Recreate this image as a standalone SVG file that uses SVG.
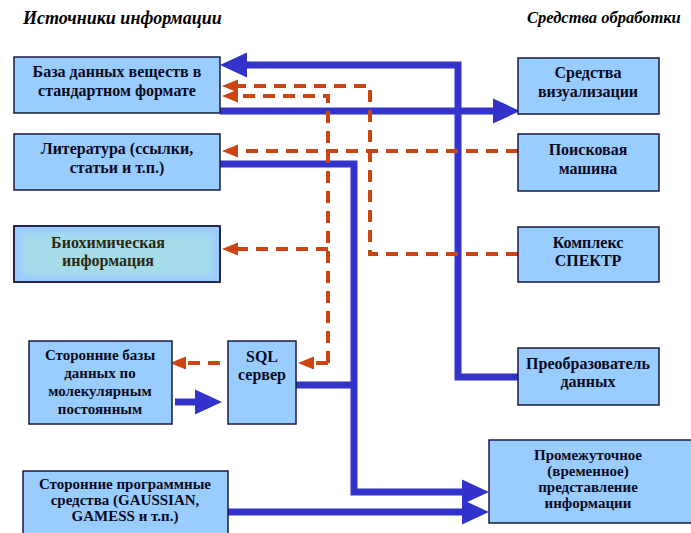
<svg xmlns="http://www.w3.org/2000/svg" width="691" height="533" viewBox="0 0 691 533">
<style>
.box{fill:#99ccff;stroke:#1a1a40;stroke-width:1.5}
.t{font-weight:bold;font-size:16px;fill:#0a0a20;text-anchor:middle}
.s{font-size:15px}
.h{font-weight:bold;font-style:italic;font-size:18px;fill:#000}
.b{fill:none;stroke:#3333cc;stroke-width:7}
.d{fill:none;stroke:#cc4411;stroke-width:4;stroke-dasharray:12 8}
</style>
<defs>
<marker id="ba" markerUnits="userSpaceOnUse" markerWidth="27" markerHeight="25" refX="0" refY="12.5" orient="auto" overflow="visible">
<path d="M0,0 L27,12.5 L0,25 Z" fill="#3333cc"/>
</marker>
<marker id="oa" markerUnits="userSpaceOnUse" markerWidth="16" markerHeight="13" refX="0" refY="6.5" orient="auto" overflow="visible">
<path d="M0,0 L16,6.5 L0,13 Z" fill="#cc4411"/>
</marker>
<filter id="soft" x="-10%" y="-30%" width="120%" height="160%">
<feGaussianBlur stdDeviation="3"/>
</filter>
</defs>
<g font-family="Liberation Serif">
<text class="h" x="23" y="24">Источники информации</text>
<text class="h" x="527" y="23" style="font-size:16.5px">Средства обработки</text>

<g id="connectors">
<path class="b" d="M518,377 H458 V65 H247" marker-end="url(#ba)"/>
<path class="b" d="M220,111 H493" marker-end="url(#ba)"/>
<path class="b" d="M220,164 H354 V492 H462" marker-end="url(#ba)"/>
<path class="b" d="M296,385 H354"/>
<path class="b" d="M228,512 H462" marker-end="url(#ba)"/>
<path class="b" d="M175,402 H195" marker-end="url(#ba)"/>
<path class="d" d="M518,151 H238" marker-end="url(#oa)"/>
<path class="d" d="M518,254 H370 V86 H238" marker-end="url(#oa)"/>
<path class="d" d="M328,363 V96 H238" marker-end="url(#oa)"/>
<path class="d" d="M328,249 H238" marker-end="url(#oa)"/>
<path class="d" d="M328,363 H314" marker-end="url(#oa)"/>
<path class="d" d="M220,363 H186" marker-end="url(#oa)"/>
</g>

<g id="db-standard">
<rect class="box" x="14" y="57" width="206" height="56"/>
<text class="t" x="117" y="77">База данных веществ в</text>
<text class="t" x="117" y="96">стандартном формате</text>
</g>
<g id="literature">
<rect class="box" x="14" y="134" width="206" height="56"/>
<text class="t" x="117" y="154">Литература (ссылки,</text>
<text class="t" x="117" y="173">статьи и т.п.)</text>
</g>
<g id="biochem">
<rect class="box" x="14" y="226" width="206" height="56"/>
<rect x="22" y="233" width="190" height="42" fill="#a6dcea" filter="url(#soft)"/>
<rect x="14" y="226" width="206" height="56" fill="none" stroke="#1a1a40" stroke-width="1.5"/>
<text class="t" x="108" y="248" style="fill:#2a2a10">Биохимическая</text>
<text class="t" x="108" y="266" style="fill:#2a2a10">информация</text>
</g>
<g id="thirdparty-db">
<rect class="box" x="29" y="341" width="143" height="83"/>
<text class="t s" x="100" y="360">Сторонние базы</text>
<text class="t s" x="100" y="378">данных по</text>
<text class="t s" x="100" y="396">молекулярным</text>
<text class="t s" x="100" y="414">постоянным</text>
</g>
<g id="sql">
<rect class="box" x="228" y="341" width="68" height="83"/>
<text class="t" x="262" y="362">SQL</text>
<text class="t" x="262" y="380">сервер</text>
</g>
<g id="thirdparty-soft">
<rect class="box" x="23" y="471" width="205" height="66"/>
<text class="t s" x="125" y="489">Сторонние программные</text>
<text class="t s" x="125" y="505">средства (GAUSSIAN,</text>
<text class="t s" x="125" y="521">GAMESS и т.п.)</text>
</g>
<g id="visualization">
<rect class="box" x="518" y="58" width="141" height="56"/>
<text class="t" x="588" y="78">Средства</text>
<text class="t" x="588" y="97">визуализации</text>
</g>
<g id="search">
<rect class="box" x="518" y="134" width="141" height="57"/>
<text class="t" x="588" y="155">Поисковая</text>
<text class="t" x="588" y="174">машина</text>
</g>
<g id="spektr">
<rect class="box" x="518" y="227" width="141" height="55"/>
<text class="t" x="588" y="248">Комплекс</text>
<text class="t" x="588" y="266">СПЕКТР</text>
</g>
<g id="converter">
<rect class="box" x="518" y="348" width="141" height="57"/>
<text class="t" x="588" y="369">Преобразователь</text>
<text class="t" x="588" y="387">данных</text>
</g>
<g id="intermediate">
<rect class="box" x="489" y="440" width="205" height="83"/>
<text class="t s" x="588" y="460">Промежуточное</text>
<text class="t s" x="588" y="476">(временное)</text>
<text class="t s" x="588" y="492">представление</text>
<text class="t s" x="588" y="508">информации</text>
</g>
</g>
</svg>
